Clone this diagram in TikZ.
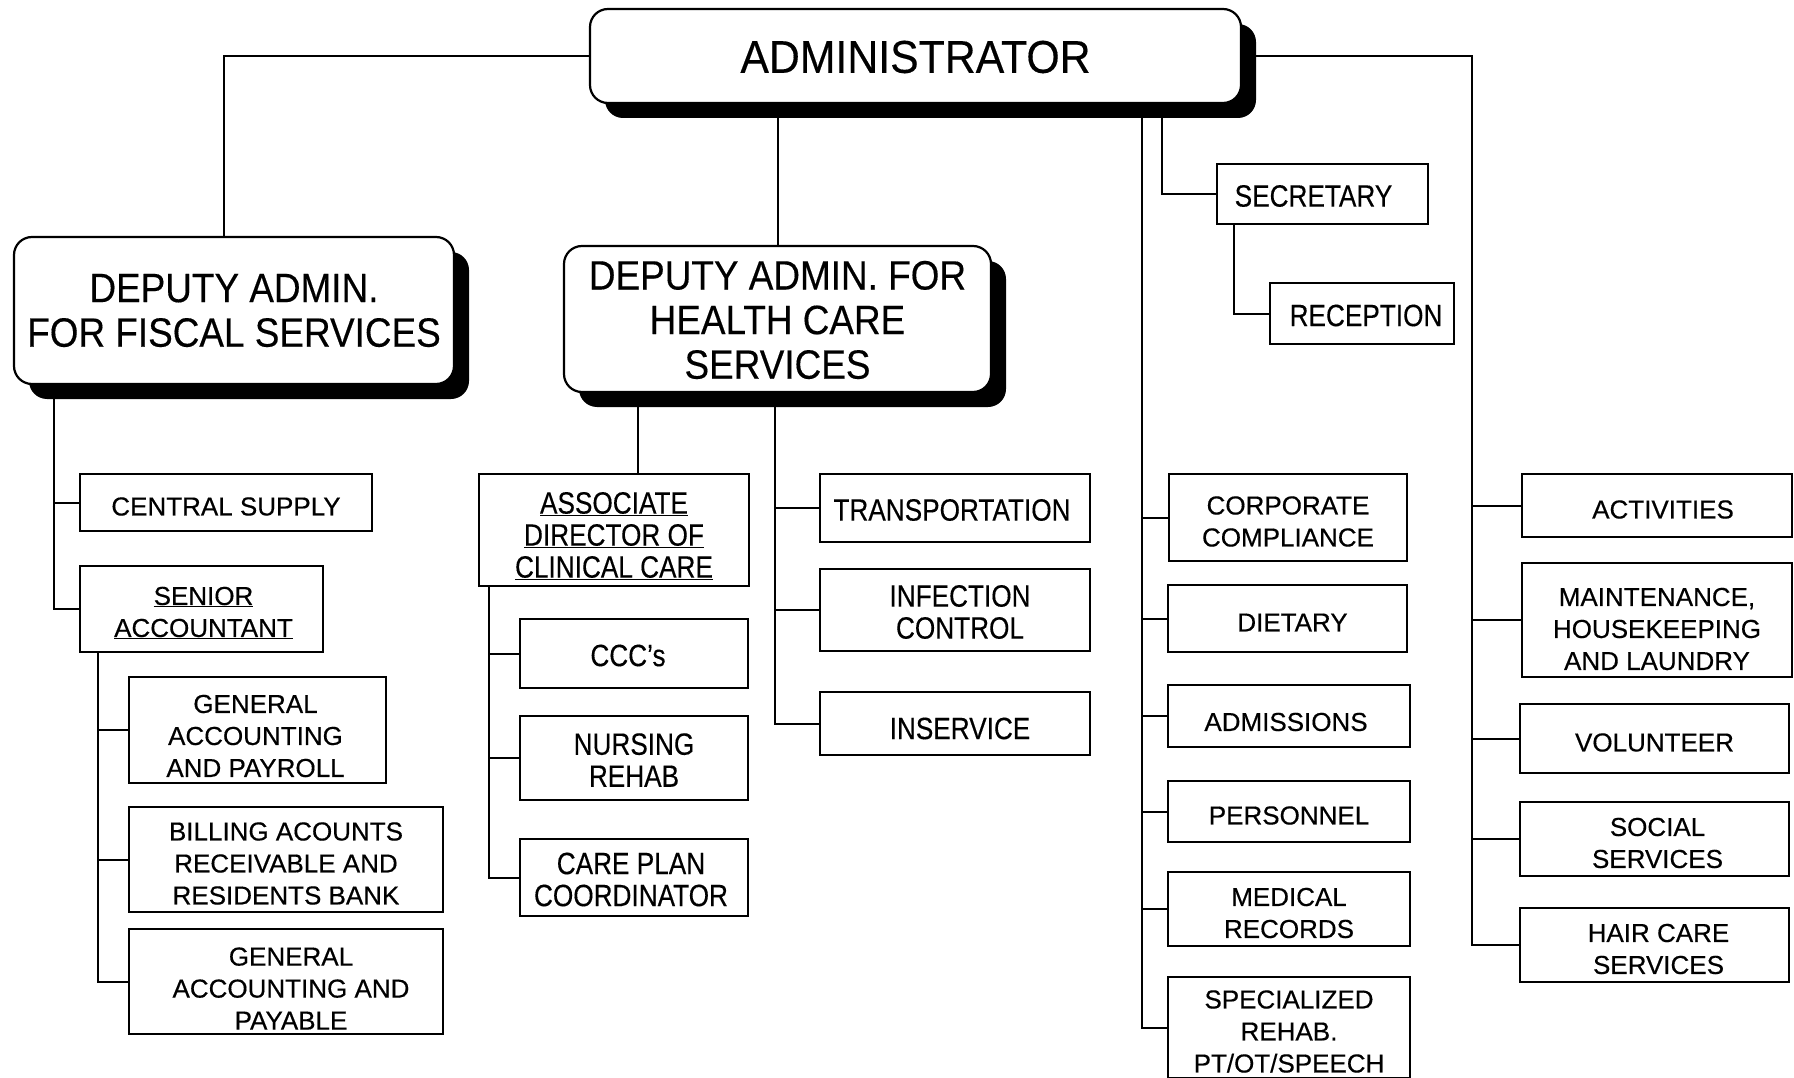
\documentclass[tikz,border=0pt]{standalone}
\usepackage{fontspec}
\setmainfont{Liberation Sans}[FakeBold=0.4]
\newfontfamily\narf[FakeStretch=0.85,FakeBold=0.3]{Liberation Sans}
\newfontfamily\bigf[FakeStretch=0.9,FakeBold=0.3]{Liberation Sans}
\newfontfamily\admf[FakeStretch=0.93,FakeBold=0.3]{Liberation Sans}
\usetikzlibrary{shadows,calc}
\newcommand\bx[8]{\node[#6, minimum width={#4pt-#2pt}, minimum height={#5pt-#3pt}] (#1) at ({(#2+#4)/2},{(#3+#5)/2}) {};
  \node[#7] at (#1.center) {#8};}
\begin{document}
\begin{tikzpicture}[x=1pt,y=-1pt,
  every node/.style={inner sep=0pt, outer sep=0pt, align=center},
  conn/.style={line width=2pt},
  sbox/.style={draw, line width=2.2pt, fill=white},
  rbox/.style={draw, line width=2.2pt, fill=white, rounded corners=18pt,
    drop shadow={shadow xshift=15pt, shadow yshift=-15pt, fill=black, opacity=1}},
  st/.style={font=\fontsize{26}{32}\selectfont, yshift=-4pt},
  nt/.style={font=\narf\fontsize{30.8}{32}\selectfont, yshift=-2pt},
  bt/.style={font=\bigf\fontsize{41}{44.6}\selectfont},
]
\fill[white] (0,0) rectangle (1794,1078);
\useasboundingbox (0,0) rectangle (1794,1078);

% top level
\bx{admin}{590}{9}{1241}{103}{rbox}{font=\admf\fontsize{46}{50}\selectfont, yshift=-1pt}{ADMINISTRATOR}
\bx{dfis}{14}{237}{454}{384}{rbox}{bt}{DEPUTY ADMIN.\\FOR FISCAL SERVICES}
\bx{dhc}{564}{246}{991}{392}{rbox}{bt, yshift=-1pt}{DEPUTY ADMIN. FOR\\HEALTH CARE\\SERVICES}

% secretary
\bx{sec}{1217}{164}{1428}{224}{sbox}{nt, xshift=-9pt}{SECRETARY}
\bx{rec}{1270}{283}{1454}{344}{sbox}{nt, xshift=4pt}{RECEPTION}

% fiscal branch
\bx{cs}{80}{474}{372}{531}{sbox}{st}{CENTRAL SUPPLY}
\bx{sen}{80}{566}{323}{652}{sbox}{st, xshift=2pt}{\underline{SENIOR}\\\underline{ACCOUNTANT}}
\bx{gap}{129}{677}{386}{783}{sbox}{st, xshift=-2pt, yshift=-2pt}{GENERAL\\ACCOUNTING\\AND PAYROLL}
\bx{bill}{129}{807}{443}{912}{sbox}{st}{BILLING ACOUNTS\\RECEIVABLE AND\\RESIDENTS BANK}
\bx{gapay}{129}{929}{443}{1034}{sbox}{st, xshift=5pt, yshift=-3pt}{GENERAL\\ACCOUNTING AND\\PAYABLE}

% health branch
\bx{assoc}{479}{474}{749}{586}{sbox}{nt, yshift=-4pt}{\underline{ASSOCIATE}\\\underline{DIRECTOR OF}\\\underline{CLINICAL CARE}}
\bx{ccc}{520}{619}{748}{688}{sbox}{nt, xshift=-6pt}{CCC’s}
\bx{nurs}{520}{716}{748}{800}{sbox}{nt}{NURSING\\REHAB}
\bx{care}{520}{839}{748}{916}{sbox}{nt, xshift=-3pt}{CARE PLAN\\COORDINATOR}
\bx{trans}{820}{474}{1090}{542}{sbox}{nt, xshift=-3pt}{TRANSPORTATION}
\bx{inf}{820}{569}{1090}{651}{sbox}{nt, xshift=5pt}{INFECTION\\CONTROL}
\bx{insv}{820}{692}{1090}{755}{sbox}{nt, xshift=5pt, yshift=-3pt}{INSERVICE}

% column 3
\bx{corp}{1169}{474}{1407}{561}{sbox}{st}{CORPORATE\\COMPLIANCE}
\bx{diet}{1168}{585}{1407}{652}{sbox}{st, xshift=5pt}{DIETARY}
\bx{adm}{1168}{685}{1410}{747}{sbox}{st, xshift=-3pt, yshift=-2pt}{ADMISSIONS}
\bx{pers}{1168}{781}{1410}{842}{sbox}{st}{PERSONNEL}
\bx{med}{1168}{872}{1410}{946}{sbox}{st}{MEDICAL\\RECORDS}
\bx{spec}{1168}{977}{1410}{1078}{sbox}{st}{SPECIALIZED\\REHAB.\\PT/OT/SPEECH}

% column 4
\bx{act}{1522}{474}{1792}{537}{sbox}{st, xshift=6pt}{ACTIVITIES}
\bx{maint}{1522}{563}{1792}{677}{sbox}{st, yshift=-5pt}{MAINTENANCE,\\HOUSEKEEPING\\AND LAUNDRY}
\bx{vol}{1520}{704}{1789}{773}{sbox}{st}{VOLUNTEER}
\bx{soc}{1520}{802}{1789}{876}{sbox}{st, xshift=3pt}{SOCIAL\\SERVICES}
\bx{hair}{1520}{908}{1789}{982}{sbox}{st, xshift=4pt}{HAIR CARE\\SERVICES}

% connectors from administrator
\draw[conn] (admin.west) -| ($(dfis.north)+(-10,0)$);
\draw[conn] (dhc.north |- admin.south) -- (dhc.north);
\coordinate (c4) at (1472,56);
\draw[conn] (admin.east) -- (c4) -- (c4 |- hair.west) -- (hair.west);
\foreach \n in {act,maint,vol,soc} \draw[conn] (c4 |- \n.west) -- (\n.west);
\coordinate (c3) at (1142,103);
\draw[conn] (c3) |- (spec.west);
\foreach \n in {corp,diet,adm,pers,med} \draw[conn] (c3 |- \n.west) -- (\n.west);
\coordinate (c3s) at (1162,103);
\draw[conn] (c3s) |- (sec.west);
\coordinate (sv2) at ($(sec.south west)+(17,0)$);
\draw[conn] (sv2) |- (rec.west);

% fiscal
\coordinate (fv) at ($(dfis.south west)+(40,0)$);
\draw[conn] (fv) |- (sen.west);
\draw[conn] (fv |- cs.west) -- (cs.west);
\coordinate (sv) at ($(sen.south west)+(18,0)$);
\draw[conn] (sv) |- (gapay.west);
\foreach \n in {gap,bill} \draw[conn] (sv |- \n.west) -- (\n.west);

% health
\coordinate (hv1) at ($(dhc.south west)+(74,0)$);
\draw[conn] (hv1) -- (hv1 |- assoc.north);
\coordinate (hv2) at ($(dhc.south)+(-3,0)$);
\draw[conn] (hv2) |- (insv.west);
\foreach \n in {trans,inf} \draw[conn] (hv2 |- \n.west) -- (\n.west);
\coordinate (av) at ($(assoc.south west)+(9.5,0)$);
\draw[conn] (av) |- (care.west);
\foreach \n in {ccc,nurs} \draw[conn] (av |- \n.west) -- (\n.west);
\end{tikzpicture}
\end{document}
